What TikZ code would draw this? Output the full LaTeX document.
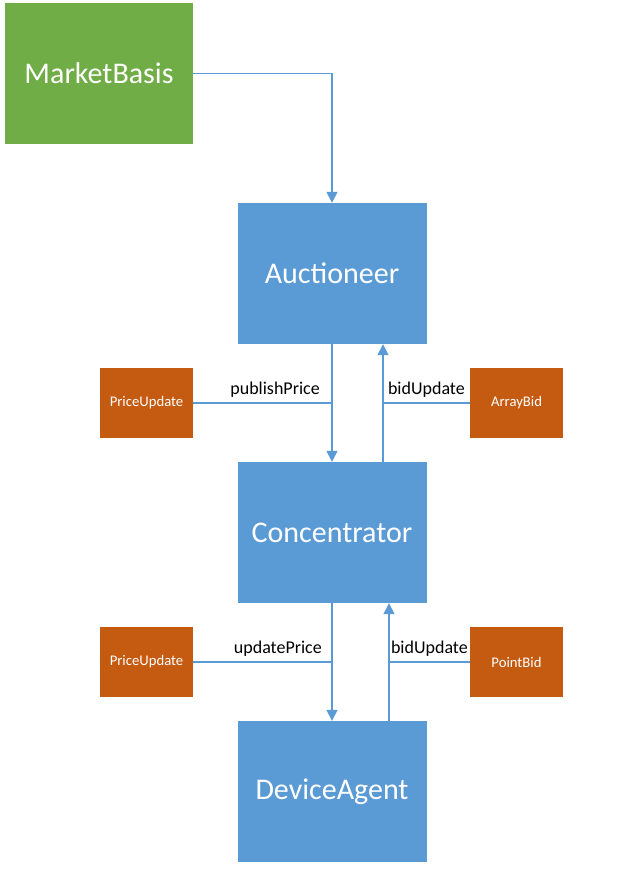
\documentclass[tikz,border=0pt]{standalone}
\usepackage{fontspec}
\setmainfont{Carlito}
\usepackage{xcolor}
\usetikzlibrary{positioning, arrows.meta}

\definecolor{mbgreen}{HTML}{70AD47}
\definecolor{agblue}{HTML}{5B9BD5}
\definecolor{msgorange}{HTML}{C55A11}

\begin{document}
\begin{tikzpicture}[x=1pt, y=-1pt,
    agent/.style={rectangle, fill=agblue, text=white, minimum width=189pt, minimum height=141pt, font=\fontsize{30}{32}\selectfont},
    msg/.style={rectangle, fill=msgorange, text=white, minimum width=93pt, minimum height=70pt, font=\fontsize{14.7}{16}\selectfont},
    link/.style={draw=agblue, line width=1.4pt},
    flow/.style={link, -{Triangle[length=11pt, width=11pt]}},
    lbl/.style={above=1.5pt, font=\fontsize{18}{20}\selectfont, text=black}]
            \useasboundingbox (0, 0) rectangle (632, 872);

            \node[agent, fill=mbgreen, minimum width=188pt] (market) at (99, 73.5) {MarketBasis};
            \node[agent] (auct) at (332, 273.5) {Auctioneer};
            \node[agent] (conc) at (332, 532.5) {Concentrator};
            \node[agent] (dev) at (332, 791.5) {DeviceAgent};

            \node[msg] (pu1) at (146.5, 403) {PriceUpdate};
            \node[msg] (ab) at (516.5, 403) {ArrayBid};
            \node[msg] (pu2) at (146.5, 662) {PriceUpdate};
            \node[msg] (pb) at (516.5, 662) {PointBid};

            % return paths sit right of the centre line
            \coordinate (auctup) at ([xshift=51pt]auct.south);
            \coordinate (concup) at ([xshift=57pt]conc.south);

            \draw[flow] (market.east) -| (auct.north);

            \draw[flow] (auct.south) -- (conc.north);
            \draw[flow] (conc.north -| auctup) -- (auctup);
            \draw[link] (pu1.east) -- node[lbl, pos=0.59] {publishPrice} (pu1.east -| auct.south);
            \draw[link] (ab.west) -- node[lbl] {bidUpdate} (ab.west -| auctup);

            \draw[flow] (conc.south) -- (dev.north);
            \draw[flow] (dev.north -| concup) -- (concup);
            \draw[link] (pu2.east) -- node[lbl, pos=0.61] {updatePrice} (pu2.east -| conc.south);
            \draw[link] (pb.west) -- node[lbl] {bidUpdate} (pb.west -| concup);
        \end{tikzpicture}
\end{document}
